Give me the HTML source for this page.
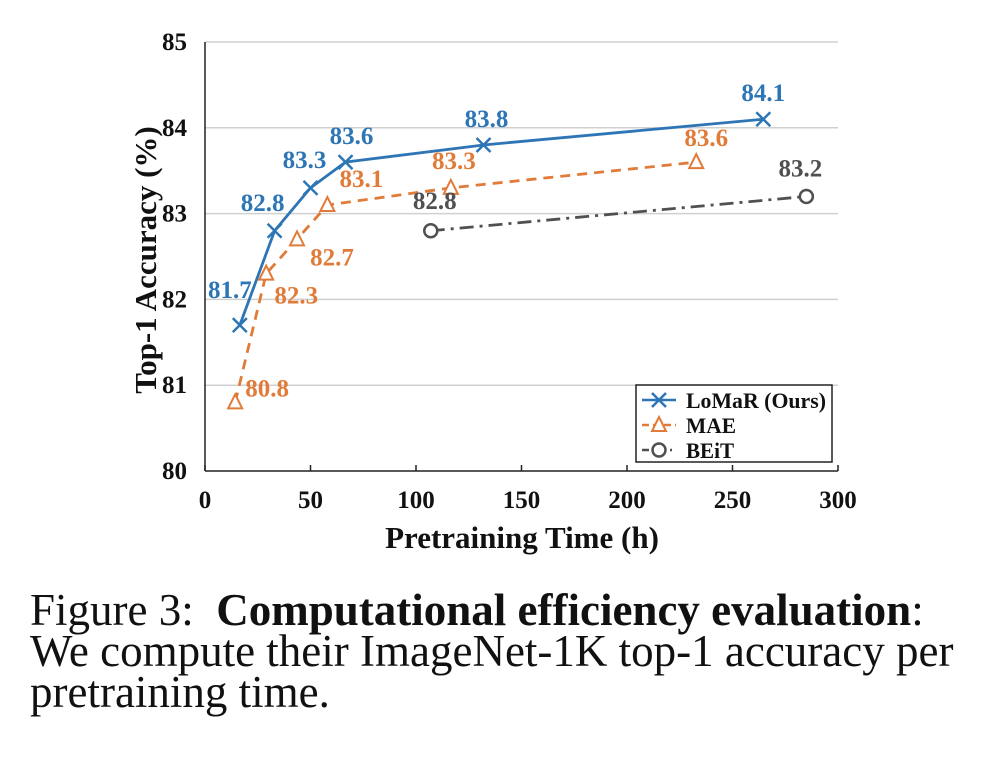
<!DOCTYPE html>
<html><head><meta charset="utf-8"><style>
body{margin:0;background:#fff;width:1002px;height:776px;overflow:hidden;}
svg text{font-family:"Liberation Serif",serif;font-weight:bold;}
.cap{position:absolute;left:30px;top:590px;font-family:"Liberation Serif",serif;font-size:45px;line-height:41px;color:#111;white-space:nowrap;}
</style></head><body>
<svg width="1002" height="580" style="position:absolute;left:0;top:0">
<g id="grid"></g><g id="axes"></g><g id="series"></g><g id="legend"></g>
</svg>
<div class="cap">Figure 3:&nbsp; <b>Computational efficiency evaluation</b>:<br>We compute their ImageNet-1K top-1 accuracy per<br>pretraining time.</div>
<script>
const xTicks=[0,50,100,150,200,250,300];
const yTicks=[80,81,82,83,84,85];
const lomarX=[16.5,33,50,66.6,132,264.6];
const lomarY=[81.7,82.8,83.3,83.6,83.8,84.1];
const maeX=[14.3,29,43.6,58,116.5,232.8];
const maeY=[80.8,82.3,82.7,83.1,83.3,83.6];
const beitX=[107,285];
const beitY=[82.8,83.2];
const NS="http://www.w3.org/2000/svg";
const X=v=>205+v*(838-205)/300, Y=v=>471-(v-80)*(471-42)/5;
function mk(t,a,p){const e=document.createElementNS(NS,t);for(const k in a)e.setAttribute(k,a[k]);document.getElementById(p).appendChild(e);return e;}
yTicks.forEach(t=>{
 if(t>80){const l=mk('line',{x1:205,x2:838,y1:Y(t),y2:Y(t),stroke:'#d0d0d0','stroke-width':1.5},'grid');
 
 }
 const tx=mk('text',{x:187,y:Y(t)+8,'text-anchor':'end','font-size':25,fill:'#111'},'axes');tx.textContent=t;
 
 
});
mk('line',{x1:205,x2:205,y1:42,y2:471,stroke:'#222','stroke-width':1.5},'axes');
mk('line',{x1:205,x2:838,y1:471,y2:471,stroke:'#222','stroke-width':1.5},'axes');
xTicks.forEach(t=>{
 mk('line',{x1:X(t),x2:X(t),y1:465,y2:471,stroke:'#222','stroke-width':1.5},'axes');
 const tx=mk('text',{x:X(t),y:508,'text-anchor':'middle','font-size':25,fill:'#111'},'axes');tx.textContent=t;
 
 
});
let xt=mk('text',{x:522,y:548,'text-anchor':'middle','font-size':31,fill:'#111'},'axes');xt.textContent='Pretraining Time (h)';


let yt=mk('text',{x:0,y:0,'text-anchor':'middle','font-size':31,fill:'#111',transform:'translate(156,260) rotate(-90)'},'axes');yt.textContent='Top-1 Accuracy (%)';


function marker(type,x,y,c,p){
 if(type==='x'){mk('path',{d:`M${x-7},${y-7}L${x+7},${y+7}M${x-7},${y+7}L${x+7},${y-7}`,stroke:c,'stroke-width':2.5,fill:'none'},p);}
 else if(type==='t'){mk('path',{d:`M${x},${y-8}L${x+7},${y+6}L${x-7},${y+6}Z`,stroke:c,'stroke-width':2,fill:'#fff'},p);}
 else mk('circle',{cx:x,cy:y,r:6.5,stroke:c,'stroke-width':2.5,fill:'#fff'},p);
}
function series(xs,ys,c,dash,type,name,offs){
 let d='M'+X(xs[0])+','+Y(ys[0]);
 for(let i=1;i<xs.length;i++)d+='L'+X(xs[i])+','+Y(ys[i]);
 const pl=mk('path',{d:d,stroke:c,'stroke-width':2.8,fill:'none','stroke-dasharray':dash},'series');
 
 
 xs.forEach((v,i)=>{marker(type,X(v),Y(ys[i]),c,'series');
  const t=mk('text',{x:X(v)+offs[i][0],y:Y(ys[i])+offs[i][1],'text-anchor':'middle','font-size':25,fill:c},'series');t.textContent=ys[i].toFixed(1);
  
  });
}
series(lomarX,lomarY,'#2e75b6','','x','lomar',[[-10,-27],[-12,-20],[-6,-20],[6,-18],[3,-18],[0,-18]]);
series(maeX,maeY,'#e07b39','10,7','t','mae',[[32,-6],[30,30],[35,26],[34,-18],[3,-19],[10,-16]]);
series(beitX,beitY,'#505050','14,6,3,6','o','beit',[[4,-22],[-6,-20]]);
const lg=mk('rect',{x:636,y:385,width:196,height:77,fill:'#fff',stroke:'#222','stroke-width':1.5},'legend');


[['LoMaR (Ours)','#2e75b6','','x'],['MAE','#e07b39','7,4','t'],['BEiT','#505050','7,4,2,4','o']].forEach((e,i)=>{
 const y=400+i*25;
 mk('line',{x1:642,x2:676,y1:y,y2:y,stroke:e[1],'stroke-width':2.5,'stroke-dasharray':e[2]},'legend');
 marker(e[3],659,y,e[1],'legend');
 const t=mk('text',{x:686,y:y+8,'font-size':22,fill:'#111',textLength:i==0?140:(i==1?50:48),lengthAdjust:'spacingAndGlyphs'},'legend');t.textContent=e[0];
 
 
});
</script>
</body></html>
